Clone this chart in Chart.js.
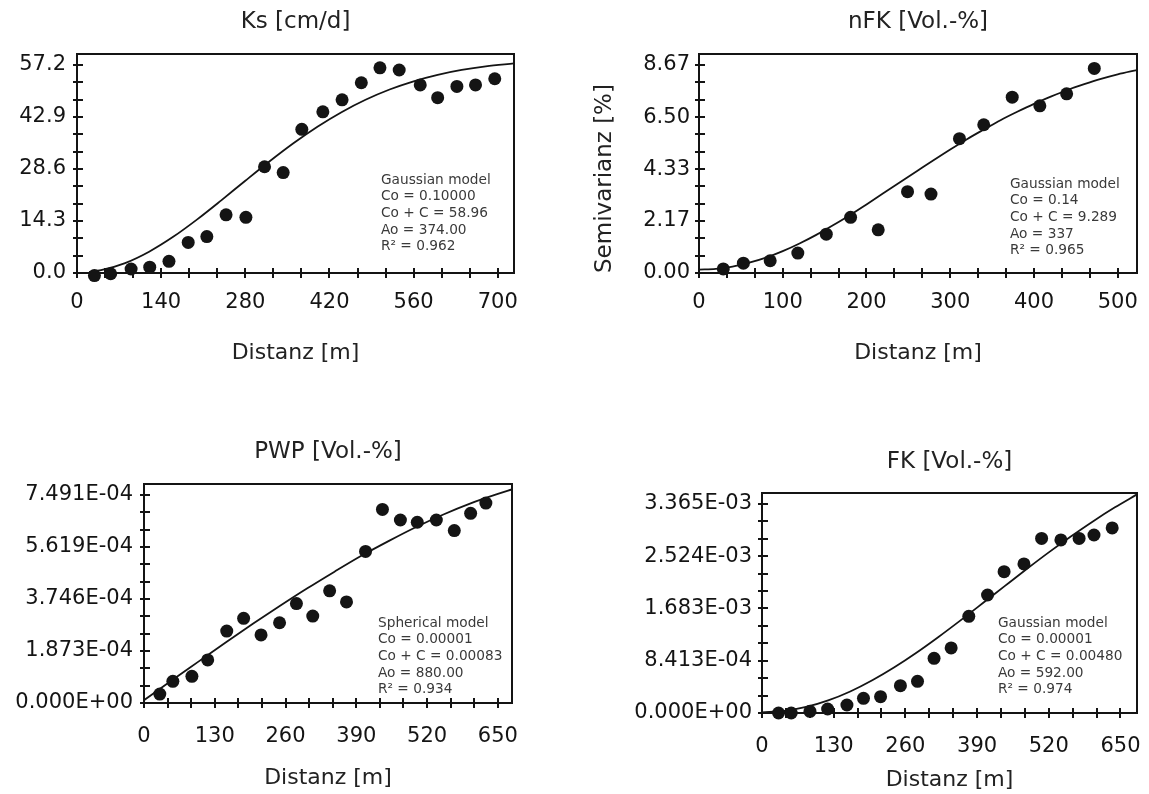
<!DOCTYPE html>
<html>
<head>
<meta charset="utf-8">
<script src="https://cdn.jsdelivr.net/npm/chart.js@4.4.1/dist/chart.umd.min.js"></script>
<style>
body { margin:0; background:#fff; width:1149px; height:794px; position:relative; overflow:hidden; }
canvas { position:absolute; }
</style>
</head>
<body>
<canvas id="ks" width="560" height="390" style="left:0;top:0"></canvas>
<canvas id="nfk" width="610" height="390" style="left:575px;top:0"></canvas>
<canvas id="pwp" width="560" height="374" style="left:0;top:420px"></canvas>
<canvas id="fk" width="610" height="374" style="left:575px;top:420px"></canvas>
<script>
// Ks [cm/d]
const ksDist = [29,56,90,121,153,185,216,248,281,312,343,374,409,441,473,504,536,571,600,632,663,695];
const ksSemi = [-0.7,-0.2,1.1,1.6,3.2,8.4,10.0,16.0,15.3,29.2,27.6,39.5,44.3,47.6,52.3,56.4,55.8,51.7,48.2,51.3,51.7,53.4];
const ksModelDist = [20,40,80,120,160,200,240,280,320,360,400,440,480,520,560,600,640,680,727];
const ksModelSemi = [0.27,0.77,2.73,5.86,9.94,14.74,19.97,25.36,30.65,35.66,40.21,44.21,47.62,50.44,52.70,54.47,55.81,56.80,57.6];
const ksXTicks = [0,140,280,420,560,700];
const ksYTicks = [0,14.3,28.6,42.9,57.2];
const ksYLabels = ['0.0','14.3','28.6','42.9','57.2'];
const ksNote = ['Gaussian model','Co = 0.10000','Co + C = 58.96','Ao = 374.00','R² = 0.962'];

// nFK [Vol.-%]
const nfkDist = [29,53,85,118,152,181,214,249,277,311,340,374,407,439,472];
const nfkSemi = [0.17,0.41,0.51,0.83,1.62,2.32,1.80,3.39,3.29,5.60,6.18,7.33,6.97,7.47,8.53];
const nfkModelDist = [0,20,40,60,80,100,120,140,160,180,200,220,240,260,280,300,320,340,360,380,400,420,440,460,480,500,523];
const nfkModelSemi = [0.14,0.17,0.27,0.43,0.64,0.91,1.23,1.59,1.99,2.41,2.86,3.32,3.78,4.24,4.70,5.15,5.58,5.98,6.37,6.72,7.05,7.35,7.63,7.87,8.09,8.28,8.46];
const nfkXTicks = [0,100,200,300,400,500];
const nfkYTicks = [0,2.17,4.33,6.50,8.67];
const nfkYLabels = ['0.00','2.17','4.33','6.50','8.67'];
const nfkNote = ['Gaussian model','Co = 0.14','Co + C = 9.289','Ao = 337','R² = 0.965'];

// PWP [Vol.-%]
const pwpDist = [29,53,88,117,152,183,215,249,280,310,341,372,407,438,471,502,537,570,600,628];
const pwpSemi = [3.2e-5,7.8e-5,9.6e-5,1.55e-4,2.59e-4,3.05e-4,2.45e-4,2.89e-4,3.58e-4,3.13e-4,4.04e-4,3.64e-4,5.46e-4,6.97e-4,6.59e-4,6.51e-4,6.59e-4,6.21e-4,6.83e-4,7.20e-4];
const pwpModelDist = [0,50,100,150,200,250,300,350,400,450,500,550,600,650,676];
const pwpModelSemi = [1.0e-5,8.0e-5,1.49e-4,2.18e-4,2.85e-4,3.50e-4,4.13e-4,4.73e-4,5.31e-4,5.84e-4,6.34e-4,6.79e-4,7.19e-4,7.53e-4,7.69e-4];
const pwpXTicks = [0,130,260,390,520,650];
const pwpYTicks = [0,1.873e-4,3.746e-4,5.619e-4,7.491e-4];
const pwpYLabels = ['0.000E+00','1.873E-04','3.746E-04','5.619E-04','7.491E-04'];
const pwpNote = ['Spherical model','Co = 0.00001','Co + C = 0.00083','Ao = 880.00','R² = 0.934'];

// FK [Vol.-%]
const fkDist = [30,53,87,119,154,184,215,251,282,312,343,375,409,439,475,507,542,575,602,635];
const fkSemi = [0,0,2.7e-5,6.4e-5,1.29e-4,2.36e-4,2.63e-4,4.4e-4,5.1e-4,8.8e-4,1.047e-3,1.557e-3,1.90e-3,2.276e-3,2.40e-3,2.81e-3,2.786e-3,2.81e-3,2.866e-3,2.98e-3];
const fkModelDist = [0,40,80,120,160,200,240,280,320,360,400,440,480,520,560,600,640,680];
const fkModelSemi = [1.0e-5,3.2e-5,9.7e-5,2.03e-4,3.47e-4,5.27e-4,7.36e-4,9.70e-4,1.224e-3,1.491e-3,1.766e-3,2.043e-3,2.318e-3,2.586e-3,2.842e-3,3.085e-3,3.311e-3,3.52e-3];
const fkXTicks = [0,130,260,390,520,650];
const fkYTicks = [0,8.413e-4,1.683e-3,2.524e-3,3.365e-3];
const fkYLabels = ['0.000E+00','8.413E-04','1.683E-03','2.524E-03','3.365E-03'];
const fkNote = ['Gaussian model','Co = 0.00001','Co + C = 0.00480','Ao = 592.00','R² = 0.974'];

const FONT = '"DejaVu Sans", Verdana, sans-serif';
const INK = '#141414';
const TITLE_SIZE = 23, AXIS_SIZE = 22, TICK_SIZE = 21;

// 2 minor ticks between each pair of labelled ticks
function withMinor(major) {
    const out = [];
    for (let i = 0; i < major.length; i++) {
        out.push(major[i]);
        if (i < major.length - 1) {
            const step = (major[i+1] - major[i]) / 3;
            out.push(major[i] + step, major[i] + 2*step);
        }
    }
    return out;
}

// box round the plot area and tick marks crossing the axes
const framePlugin = {
    id: 'frame',
    beforeDatasetsDraw(chart) {
        const {ctx, chartArea: a, scales: {x, y}} = chart;
        ctx.save();
        ctx.strokeStyle = INK;
        ctx.lineWidth = 2;
        ctx.strokeRect(a.left, a.top, a.right - a.left, a.bottom - a.top);
        ctx.beginPath();
        x.ticks.forEach(t => {
            const px = Math.round(x.getPixelForValue(t.value));
            ctx.moveTo(px, a.bottom - 5); ctx.lineTo(px, a.bottom + 5);
        });
        y.ticks.forEach(t => {
            const py = Math.round(y.getPixelForValue(t.value));
            ctx.moveTo(a.left - 4, py); ctx.lineTo(a.left + 6, py);
        });
        ctx.stroke();
        ctx.restore();
    }
};

// model text block
const notePlugin = {
    id: 'note',
    afterDraw(chart, args, o) {
        const ctx = chart.ctx;
        ctx.save();
        ctx.font = '13.7px ' + FONT;
        ctx.fillStyle = '#3a3a3a';
        ctx.textAlign = 'left';
        ctx.textBaseline = 'middle';
        o.lines.forEach((t, i) => ctx.fillText(t, o.x, o.y + i * 16.7));
        ctx.restore();
    }
};

function panel(id, p) {
    const canvas = document.getElementById(id);
    const W = canvas.width, H = canvas.height;
    const xt = withMinor(p.xTicks), yt = withMinor(p.yTicks);
    const tHalf = TITLE_SIZE * 0.6, aHalf = AXIS_SIZE * 0.6;
    return new Chart(canvas, {
        type: 'scatter',
        data: {
            datasets: [
                { data: p.dist.map((d, i) => ({x: d, y: p.semi[i]})), pointRadius: 6.5, pointHoverRadius: 6.5,
                  backgroundColor: INK, borderWidth: 0, clip: false },
                { data: p.mDist.map((d, i) => ({x: d, y: p.mSemi[i]})), showLine: true, pointRadius: 0,
                  borderColor: INK, borderWidth: 1.8, cubicInterpolationMode: 'monotone' }
            ]
        },
        options: {
            responsive: false,
            animation: false,
            events: [],
            layout: { padding: { left: 0, top: 0, right: W - p.area.r, bottom: 0 } },
            plugins: {
                legend: { display: false },
                tooltip: { enabled: false },
                title: {
                    display: true, text: p.title, color: '#222', fullSize: false,
                    font: { family: FONT, size: TITLE_SIZE, weight: 'normal', lineHeight: 1.2 },
                    padding: { top: p.titleY - tHalf, bottom: p.area.t - p.titleY - tHalf }
                },
                note: { lines: p.note, x: p.noteX, y: p.noteY }
            },
            scales: {
                x: {
                    type: 'linear', min: 0, max: p.xMax,
                    afterFit: s => { s.height = H - p.area.b; },
                    afterBuildTicks: s => { s.ticks = xt.map(v => ({value: v})); },
                    grid: { display: false, drawTicks: false },
                    border: { display: false },
                    ticks: {
                        autoSkip: false, maxRotation: 0, padding: p.xPad, color: INK,
                        font: { family: FONT, size: TICK_SIZE },
                        callback: (v, i) => i % 3 === 0 ? String(p.xTicks[i / 3]) : ''
                    },
                    title: {
                        display: true, text: 'Distanz [m]', color: '#222',
                        font: { family: FONT, size: AXIS_SIZE, lineHeight: 1.2 },
                        padding: { top: 0, bottom: H - p.xTitleY - aHalf }
                    }
                },
                y: {
                    type: 'linear', min: p.yMin, max: p.yMax,
                    afterFit: s => { s.width = p.area.l; },
                    afterBuildTicks: s => { s.ticks = yt.map(v => ({value: v})); },
                    grid: { display: false, drawTicks: false },
                    border: { display: false },
                    ticks: {
                        autoSkip: false, padding: p.yPad, color: INK,
                        font: { family: FONT, size: TICK_SIZE },
                        callback: (v, i) => i % 3 === 0 ? p.yLabels[i / 3] : ''
                    },
                    title: p.yTitle ? {
                        display: true, text: p.yTitle, color: '#222', align: 'start',
                        font: { family: FONT, size: TITLE_SIZE, lineHeight: 1.2 },
                        padding: { top: p.yTitleX - tHalf, bottom: 0 }
                    } : { display: false }
                }
            }
        },
        plugins: [framePlugin, notePlugin]
    });
}

panel('ks', {
    title: 'Ks [cm/d]', dist: ksDist, semi: ksSemi, mDist: ksModelDist, mSemi: ksModelSemi,
    xTicks: ksXTicks, yTicks: ksYTicks, yLabels: ksYLabels, note: ksNote,
    area: {l: 77, t: 54, r: 514, b: 273}, xMax: 727, yMin: 0, yMax: 60.2,
    titleY: 22, xTitleY: 353, xPad: 17, yPad: 11, noteX: 381, noteY: 180
});
panel('nfk', {
    title: 'nFK [Vol.-%]', dist: nfkDist, semi: nfkSemi, mDist: nfkModelDist, mSemi: nfkModelSemi,
    xTicks: nfkXTicks, yTicks: nfkYTicks, yLabels: nfkYLabels, note: nfkNote, yTitle: 'Semivarianz [%]', yTitleX: 30,
    area: {l: 124, t: 54, r: 562, b: 273}, xMax: 523, yMin: 0, yMax: 9.13,
    titleY: 22, xTitleY: 353, xPad: 17, yPad: 9, noteX: 435, noteY: 184
});
panel('pwp', {
    title: 'PWP [Vol.-%]', dist: pwpDist, semi: pwpSemi, mDist: pwpModelDist, mSemi: pwpModelSemi,
    xTicks: pwpXTicks, yTicks: pwpYTicks, yLabels: pwpYLabels, note: pwpNote,
    area: {l: 144, t: 64, r: 512, b: 283}, xMax: 676, yMin: 0, yMax: 7.887e-4,
    titleY: 32, xTitleY: 358, xPad: 21, yPad: 11, noteX: 378, noteY: 203
});
panel('fk', {
    title: 'FK [Vol.-%]', dist: fkDist, semi: fkSemi, mDist: fkModelDist, mSemi: fkModelSemi,
    xTicks: fkXTicks, yTicks: fkYTicks, yLabels: fkYLabels, note: fkNote,
    area: {l: 187, t: 73, r: 562, b: 293}, xMax: 680, yMin: 0, yMax: 3.542e-3,
    titleY: 42, xTitleY: 360, xPad: 20.5, yPad: 10, noteX: 423, noteY: 203
});
</script>
</body>
</html>
